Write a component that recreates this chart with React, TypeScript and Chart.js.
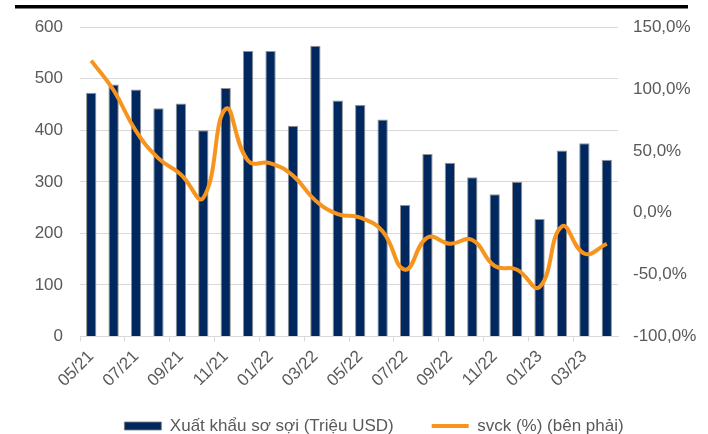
import React, { useEffect, useRef } from "react";
import { Chart, registerables } from "chart.js";

Chart.register(...registerables);

const months = [
  "05/21", "06/21", "07/21", "08/21", "09/21", "10/21", "11/21", "12/21",
  "01/22", "02/22", "03/22", "04/22", "05/22", "06/22", "07/22", "08/22",
  "09/22", "10/22", "11/22", "12/22", "01/23", "02/23", "03/23", "04/23",
];
const exportValues = [
  473, 489, 479, 443, 452, 400, 482, 554, 554, 409, 564, 458,
  449, 421, 255, 354, 337, 309, 276, 300, 228, 361, 375, 343,
];
const yoyValues = [
  123, 99, 66, 44, 31, 12, 84, 42, 40, 30, 10, -1,
  -4, -15, -46, -20, -25, -22, -43, -46, -60, -11, -33, -25,
];
const barLabel = "Xuất khẩu sơ sợi (Triệu USD)";
const lineLabel = "svck (%) (bên phải)";

const NAVY = "#00285E";
const ORANGE = "#F7941D";
const TEXT = "#595959";
const GRID = "#D9D9D9";
const FONT = { family: "'Liberation Sans', Arial, sans-serif", size: 17 };

const topRule = {
  id: "topRule",
  beforeDraw(chart: any) {
    const ctx = chart.ctx;
    ctx.save();
    ctx.fillStyle = "#000";
    ctx.fillRect(15, 5, 673, 3.5);
    ctx.restore();
  },
};

// move the legend up so it sits closer to the rotated axis labels
const legendLift = {
  id: "legendLift",
  afterLayout(chart: any) {
    const lg = chart.legend;
    if (!lg) return;
    lg.top -= 14.5;
    lg.bottom -= 14.5;
  },
};

export default function App() {
  const ref = useRef<HTMLCanvasElement>(null);
  useEffect(() => {
    if (!ref.current) return;
    const chart = new Chart(ref.current, {
      type: "bar",
      data: {
        labels: months,
        datasets: [
          {
            type: "line",
            label: lineLabel,
            data: yoyValues,
            yAxisID: "y1",
            borderColor: ORANGE,
            backgroundColor: ORANGE,
            borderWidth: 4,
            pointRadius: 0,
            tension: 0.45,
            order: 0,
          } as any,
          {
            type: "bar",
            label: barLabel,
            data: exportValues,
            yAxisID: "y",
            backgroundColor: NAVY,
            borderColor: "rgba(128,128,128,0.85)",
            borderWidth: 1,
            barPercentage: 0.46,
            categoryPercentage: 1,
            order: 1,
          } as any,
        ],
      },
      options: {
        responsive: false,
        animation: false,
        layout: { padding: { top: 25, left: 32, right: -8, bottom: 0 } },
        plugins: {
          tooltip: { enabled: false },
          legend: {
            position: "bottom",
            labels: {
              usePointStyle: true,
              pointStyleWidth: 37,
              boxHeight: 8,
              padding: 38,
              color: TEXT,
              font: FONT,
              generateLabels: () => [
                {
                  text: barLabel,
                  fillStyle: NAVY,
                  strokeStyle: "rgba(128,128,128,0.85)",
                  lineWidth: 1,
                  pointStyle: "rect",
                  hidden: false,
                  datasetIndex: 1,
                  fontColor: TEXT,
                } as any,
                {
                  text: lineLabel,
                  fillStyle: ORANGE,
                  strokeStyle: ORANGE,
                  lineWidth: 4,
                  pointStyle: "line",
                  hidden: false,
                  datasetIndex: 0,
                  fontColor: TEXT,
                } as any,
              ],
            },
          },
        },
        scales: {
          x: {
            offset: true,
            grid: {
              offset: true,
              drawOnChartArea: false,
              drawTicks: true,
              tickLength: 5,
              color: (c: any) => (c.index % 2 === 0 ? GRID : "rgba(0,0,0,0)"),
            },
            border: { display: true, color: GRID, width: 1 },
            ticks: {
              autoSkip: false,
              maxRotation: 45,
              minRotation: 45,
              padding: 5,
              color: TEXT,
              font: FONT,
              callback: (_v: any, i: number) => (i % 2 === 0 ? months[i] : ""),
            },
            afterFit: (s: any) => {
              s.height = 57.5;
            },
          },
          y: {
            position: "left",
            min: 0,
            max: 600,
            grid: { color: GRID, drawTicks: false },
            border: { display: false },
            ticks: { stepSize: 100, padding: 17, color: TEXT, font: FONT },
            afterFit: (s: any) => {
              s.width = 48;
            },
          },
          y1: {
            position: "right",
            min: -100,
            max: 150,
            grid: { drawOnChartArea: false, drawTicks: false },
            border: { display: false },
            ticks: {
              stepSize: 50,
              padding: 15,
              color: TEXT,
              font: FONT,
              callback: (v: any) => Number(v).toFixed(1).replace(".", ",") + "%",
            },
            afterFit: (s: any) => {
              s.width = 98;
            },
          },
        },
      },
      plugins: [topRule, legendLift],
    });
    return () => chart.destroy();
  }, []);

  return (
    <div
      style={{
        position: "absolute",
        left: 0,
        top: 0,
        width: 708,
        height: 434,
        overflow: "hidden",
        background: "#fff",
      }}
    >
      <canvas ref={ref} width={708} height={459} style={{ display: "block" }} />
    </div>
  );
}
